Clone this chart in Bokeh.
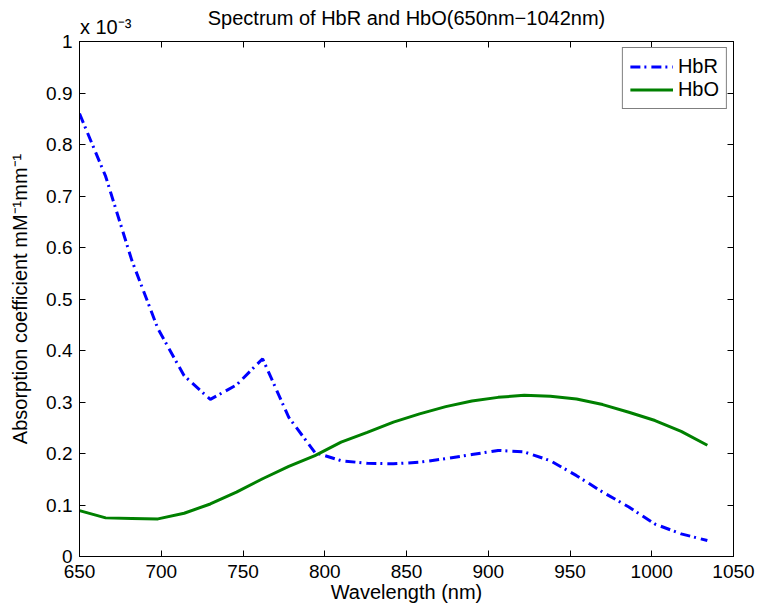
from bokeh.plotting import figure
from bokeh.models import (Range1d, LinearAxis, FixedTicker, PrintfTickFormatter,
                          CustomJSTickFormatter)
from bokeh.embed import file_html
from bokeh.resources import INLINE

# Data (absorption in units of 1e-3 mM^-1 mm^-1)
wavelength = [650, 666, 682, 698, 714, 730, 746, 762, 778, 794, 810, 826, 842,
              858, 874, 890, 906, 922, 938, 954, 970, 986, 1002, 1018, 1034]
hbr = [0.860, 0.738, 0.575, 0.442, 0.351, 0.305, 0.333, 0.384, 0.270, 0.202,
       0.186, 0.181, 0.180, 0.183, 0.190, 0.198, 0.206, 0.203, 0.186, 0.157,
       0.125, 0.096, 0.063, 0.044, 0.031]
hbo = [0.089, 0.075, 0.074, 0.073, 0.084, 0.102, 0.125, 0.151, 0.175, 0.196,
       0.222, 0.241, 0.261, 0.277, 0.291, 0.302, 0.309, 0.313, 0.311, 0.306,
       0.295, 0.280, 0.264, 0.243, 0.216]
x_ticks = [650, 700, 750, 800, 850, 900, 950, 1000, 1050]
y_ticks = [0, 0.1, 0.2, 0.3, 0.4, 0.5, 0.6, 0.7, 0.8, 0.9, 1.0]
title_text = "Spectrum of HbR and HbO(650nm\u22121042nm)"
scale_text = "x 10\u207b\u00b3"
scale_anchor = 666

FONT = "Liberation Sans"

p = figure(width=760, height=607, x_range=Range1d(650, 1050), y_range=Range1d(0, 1),
           output_backend="svg", toolbar_location=None,
           min_border_left=79, min_border_right=27, min_border_top=41, min_border_bottom=51)

p.grid.visible = False
p.outline_line_color = "black"
p.outline_line_width = 1
p.background_fill_color = "white"
p.border_fill_color = "white"

def style_axis(ax, ticks, labels=True):
    ax.ticker = FixedTicker(ticks=ticks)
    ax.major_tick_in = 6
    ax.major_tick_out = 0
    ax.minor_tick_in = 0
    ax.minor_tick_out = 0
    ax.axis_line_color = "black"
    ax.major_tick_line_color = "black"
    ax.major_label_text_font = FONT
    ax.major_label_text_font_size = "19px"
    ax.major_label_text_color = "black"
    if not labels:
        ax.formatter = CustomJSTickFormatter(code="return ''")
        ax.major_label_standoff = 0

xa = p.xaxis[0]
style_axis(xa, x_ticks)
xa.major_label_standoff = 8
xa.axis_label = "Wavelength (nm)"
xa.axis_label_text_font = FONT
xa.axis_label_text_font_size = "20px"
xa.axis_label_text_font_style = "normal"
xa.axis_label_text_color = "black"
xa.axis_label_standoff = 0

ya = p.yaxis[0]
style_axis(ya, y_ticks)
ya.formatter = PrintfTickFormatter(format="%g")
ya.major_label_standoff = 7
ya.axis_label = "Absorption coefficient mM\u207b\u00b9mm\u207b\u00b9"
ya.axis_label_text_font = FONT
ya.axis_label_text_font_size = "20px"
ya.axis_label_text_font_style = "normal"
ya.axis_label_text_color = "black"
ya.axis_label_standoff = 12

# top axis: inner tick marks (as minor ticks), the "x 10^-3" scale note, and the title
top = LinearAxis(ticker=FixedTicker(ticks=[scale_anchor], minor_ticks=x_ticks))
top.major_tick_in = 0
top.major_tick_out = 0
top.minor_tick_in = 6
top.minor_tick_out = 0
top.minor_tick_line_color = "black"
top.axis_line_color = "black"
top.major_label_overrides = {scale_anchor: scale_text}
top.major_label_text_font = FONT
top.major_label_text_font_size = "20px"
top.major_label_text_color = "black"
top.major_label_standoff = 4
top.axis_label = title_text
top.axis_label_text_font = FONT
top.axis_label_text_font_size = "20px"
top.axis_label_text_font_style = "normal"
top.axis_label_text_color = "black"
top.axis_label_standoff = -16
p.add_layout(top, "above")

right = LinearAxis()
style_axis(right, y_ticks, labels=False)
p.add_layout(right, "right")

p.line(wavelength, hbr, line_color="#0000ff", line_width=3, line_dash="10 4 2 5",
       legend_label="HbR")
p.line(wavelength, hbo, line_color="#008000", line_width=3, legend_label="HbO")

lg = p.legend[0]
lg.location = "top_right"
lg.margin = 6
lg.padding = 7
lg.spacing = 0
lg.border_line_color = "black"
lg.border_line_width = 1
lg.label_text_font = FONT
lg.label_text_font_size = "20px"
lg.label_text_color = "black"
lg.glyph_width = 43
lg.glyph_height = 19
lg.label_height = 19
lg.label_standoff = 5
lg.background_fill_alpha = 1

open("out.html", "w").write(file_html(p, INLINE))
